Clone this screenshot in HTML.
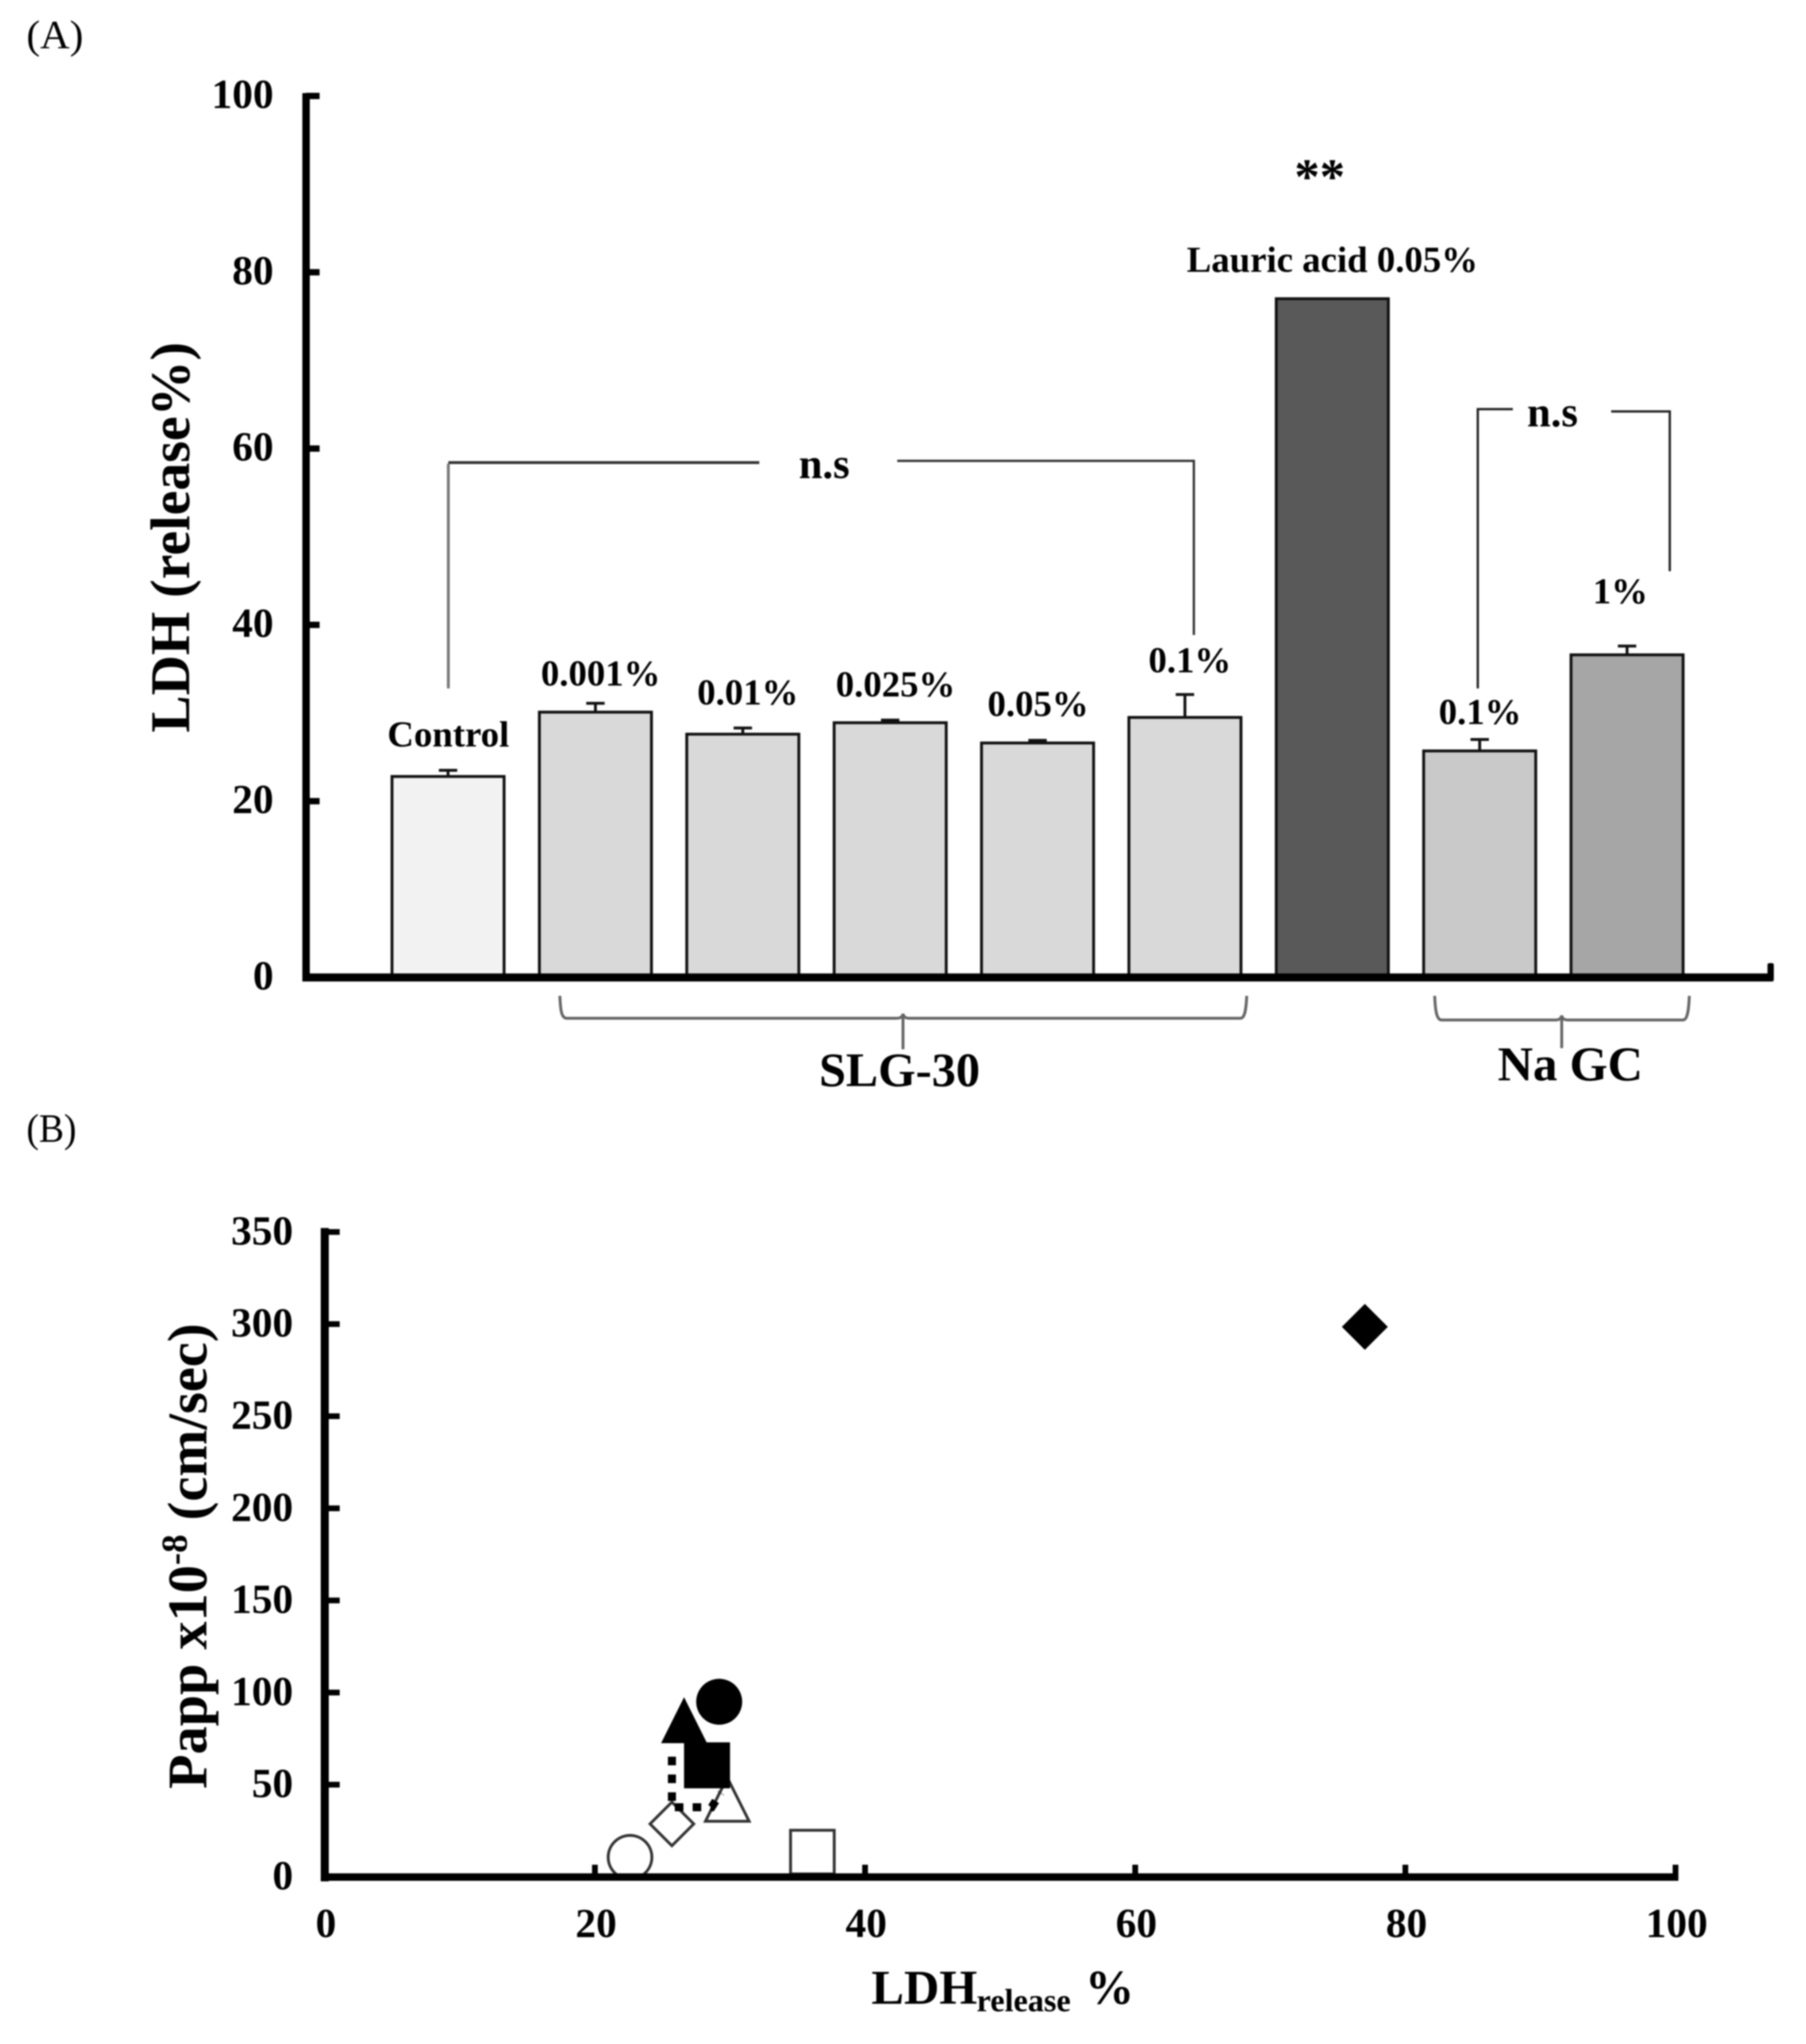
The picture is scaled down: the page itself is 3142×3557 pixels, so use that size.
<!DOCTYPE html>
<html lang="en">
<head>
<meta charset="utf-8">
<title>LDH release and Papp charts</title>
<style>
  html, body { margin: 0; padding: 0; background: #fff; }
  svg { display: block; filter: blur(1.2px); }
  text { font-family: "Liberation Serif", serif; fill: #000; }
  .b { font-weight: bold; }
  .lbl { font-weight: bold; font-size: 64px; text-anchor: middle; }
  .ns { font-weight: bold; font-size: 74px; text-anchor: middle; }
  .tick { font-weight: bold; font-size: 72px; }
</style>
</head>
<body>
<svg id="figure" xmlns="http://www.w3.org/2000/svg" width="3142" height="3557" viewBox="0 0 3142 3557">
  <rect x="0" y="0" width="3142" height="3557" fill="#fff"/>

  <!-- Panel A -->
  <g id="panel-a">
    <text x="46" y="84" font-size="70" textLength="99" lengthAdjust="spacingAndGlyphs">(A)</text>
    <g id="bars"></g>
    <g id="axes-a"></g>
    <text class="b" font-size="97" text-anchor="middle" transform="translate(329 935) rotate(-90)">LDH (release%)</text>

    <text class="lbl" x="780" y="1299">Control</text>
    <text class="lbl" x="1045" y="1193">0.001%</text>
    <text class="lbl" x="1301" y="1226">0.01%</text>
    <text class="lbl" x="1558" y="1212">0.025%</text>
    <text class="lbl" x="1806" y="1246">0.05%</text>
    <text class="lbl" x="2070" y="1170">0.1%</text>
    <text class="lbl" x="2318" y="473">Lauric acid 0.05%</text>
    <text class="lbl" x="2575" y="1260">0.1%</text>
    <text class="lbl" x="2819" y="1050">1%</text>
    <text class="b" font-size="88" text-anchor="middle" x="2296" y="337">**</text>

    <g fill="none">
      <path d="M780 1198 V807" stroke="#777" stroke-width="5"/>
      <path d="M780 805 H1321" stroke="#333" stroke-width="5"/>
      <path d="M1561 802 H2077 V1105" stroke="#333" stroke-width="4"/>
    </g>
    <text class="ns" x="1434" y="832">n.s</text>

    <g fill="none" stroke="#222" stroke-width="4">
      <path d="M2632 712 H2571 V1198"/>
      <path d="M2803 716 H2905 V994"/>
    </g>
    <text class="ns" x="2701" y="742">n.s</text>

    <path fill="none" stroke="#666" stroke-width="5" d="M974 1733 C975 1755 976 1772 986 1772 H1560 Q1570 1772 1571 1764 Q1572 1772 1582 1772 H2158 C2166 1772 2168 1755 2169 1733 M1571 1768 V1826"/>
    <text class="b" font-size="84" text-anchor="middle" x="1565" y="1890">SLG-30</text>
    <path fill="none" stroke="#666" stroke-width="5" d="M2496 1733 C2497 1757 2499 1775 2508 1775 H2706 Q2716 1775 2717 1767 Q2718 1775 2728 1775 H2928 C2936 1775 2938 1757 2939 1733 M2717 1770 V1824"/>
    <text class="b" font-size="85" text-anchor="middle" x="2732" y="1880">Na GC</text>
  </g>

  <!-- Panel B -->
  <g id="panel-b">
    <text x="46" y="1987" font-size="70" textLength="87" lengthAdjust="spacingAndGlyphs">(B)</text>
    <g id="points"></g>
    <path d="M1169 3057 V3145 H1238 L1254 3120" fill="none" stroke="#000" stroke-width="14" stroke-dasharray="15 16"/>
    <g id="axes-b"></g>
    <text class="b" font-size="98" text-anchor="middle" transform="translate(359 2708) rotate(-90)">Papp x10<tspan dy="-34" font-size="64">-8</tspan><tspan dy="34"> (cm/sec)</tspan></text>
    <text class="b" y="3487" font-size="85"><tspan x="1516">LDH</tspan><tspan x="1699" y="3500" font-size="56">release</tspan><tspan x="1888" y="3487">%</tspan></text>
  </g>

<script>
var barCategories = ['Control', 'SLG 0.001%', 'SLG 0.01%', 'SLG 0.025%', 'SLG 0.05%', 'SLG 0.1%', 'Lauric acid 0.05%', 'Na GC 0.1%', 'Na GC 1%'];
var barValues = [22.8, 30.1, 27.6, 28.9, 26.6, 29.5, 77.0, 25.7, 36.6];
var barErrors = [0.7, 1.0, 0.7, 0.3, 0.3, 2.6, 0, 1.3, 1.0];
var barFills = ['#f2f2f2', '#d9d9d9', '#d9d9d9', '#d9d9d9', '#d9d9d9', '#d9d9d9', '#595959', '#c9c9c9', '#a6a6a6'];
var yTicksA = [0, 20, 40, 60, 80, 100];

var pointNames = ['open-circle', 'open-diamond', 'open-triangle', 'open-square', 'filled-square', 'filled-triangle', 'filled-circle', 'filled-diamond'];
var pointShapes = ['circle', 'diamond', 'triangle', 'square', 'square', 'triangle', 'circle', 'diamond'];
var pointFilled = [false, false, false, false, true, true, true, true];
var pointLDH = [22.6, 25.7, 29.8, 36.1, 28.3, 26.6, 29.2, 77];
var pointPapp = [10.6, 28.7, 42, 13.4, 60.5, 85, 95, 298.5];
var yTicksB = [0, 50, 100, 150, 200, 250, 300, 350];
var xTicksB = [0, 20, 40, 60, 80, 100];

var NS = 'http://www.w3.org/2000/svg';
function mk(tag, attrs, parent) {
  var el = document.createElementNS(NS, tag);
  for (var k in attrs) { el.setAttribute(k, attrs[k]); }
  parent.appendChild(el);
  return el;
}
function yA(v) { return 1701 - v * 15.34; }
function xA(i) { return 779.5 + i * 256.4; }
function yB(v) { return 3266 - v * 3.206; }
function xB(v) { return 565 + v * 23.5; }

var barsG = document.getElementById('bars');
barValues.forEach(function (v, i) {
  var cx = xA(i);
  var top = yA(v);
  if (barErrors[i] > 0) {
    var errTop = yA(v + barErrors[i]);
    var err = mk('path', { d: 'M' + (cx - 16) + ' ' + errTop + ' H' + (cx + 16) + ' M' + cx + ' ' + errTop + ' V' + top, stroke: '#111', 'stroke-width': 5, fill: 'none' }, barsG);
    
    
  }
  var bar = mk('rect', { x: cx - 97.5, y: top, width: 195, height: 1701 - top, fill: barFills[i], stroke: '#111', 'stroke-width': 5 }, barsG);
  
  
  var t = mk('title', {}, bar);
  t.textContent = barCategories[i] + ': ' + v;
});

var axA = document.getElementById('axes-a');
var axisYA = mk('rect', { x: 526, y: 162, width: 13, height: 1546, fill: '#000' }, axA);


var axisXA = mk('rect', { x: 526, y: 1694, width: 2556, height: 14, fill: '#000' }, axA);


var endA = mk('rect', { x: 3075, y: 1676, width: 11, height: 32, rx: 3, fill: '#000' }, axA);


yTicksA.forEach(function (v) {
  var y = yA(v);
  if (v > 0) {
    var tk = mk('rect', { x: 532, y: y - 5.5, width: 24, height: 11, fill: '#000' }, axA);
    
    
  }
  var lb = mk('text', { x: 476, y: y + 21, 'text-anchor': 'end', 'class': 'tick' }, axA);
  
  
  lb.textContent = v;
});

var ptsG = document.getElementById('points');
pointLDH.forEach(function (xv, i) {
  var cx = xB(xv);
  var cy = yB(pointPapp[i]);
  var filled = pointFilled[i];
  var style = { fill: filled ? '#000' : '#fff', stroke: filled ? 'none' : '#333', 'stroke-width': filled ? 0 : 5 };
  var r = filled ? 40 : 38;
  var shape = pointShapes[i];
  var el;
  if (shape === 'circle') {
    style.cx = cx; style.cy = cy; style.rx = r; style.ry = r;
    el = mk('ellipse', style, ptsG);
  } else if (shape === 'square') {
    style.x = cx - r; style.y = cy - r; style.width = 2 * r; style.height = 2 * r;
    el = mk('rect', style, ptsG);
  } else if (shape === 'triangle') {
    style.points = cx + ',' + (cy - r) + ' ' + (cx + r) + ',' + (cy + r) + ' ' + (cx - r) + ',' + (cy + r);
    el = mk('polygon', style, ptsG);
  } else {
    style.points = cx + ',' + (cy - r) + ' ' + (cx + r) + ',' + cy + ' ' + cx + ',' + (cy + r) + ' ' + (cx - r) + ',' + cy;
    el = mk('polygon', style, ptsG);
  }
  
  
});

var axB = document.getElementById('axes-b');
var axisYB = mk('rect', { x: 558, y: 2137, width: 14, height: 1137, fill: '#000' }, axB);


var axisXB = mk('rect', { x: 558, y: 3260, width: 2362, height: 13, fill: '#000' }, axB);


yTicksB.forEach(function (v) {
  var y = yB(v);
  if (v > 0) {
    var tk = mk('rect', { x: 565, y: y - 5, width: 26, height: 10, fill: '#000' }, axB);
    
    
  }
  var lb = mk('text', { x: 510, y: y + 22, 'text-anchor': 'end', 'class': 'tick' }, axB);
  
  
  lb.textContent = v;
});
xTicksB.forEach(function (v) {
  var x = xB(v);
  if (v > 0) {
    var tk = mk('rect', { x: x - 5, y: 3245, width: 10, height: 22, fill: '#000' }, axB);
    
    
  }
  var lb = mk('text', { x: x + 2, y: 3371, 'text-anchor': 'middle', 'class': 'tick' }, axB);
  
  
  lb.textContent = v;
});
</script>
</svg>
</body>
</html>
